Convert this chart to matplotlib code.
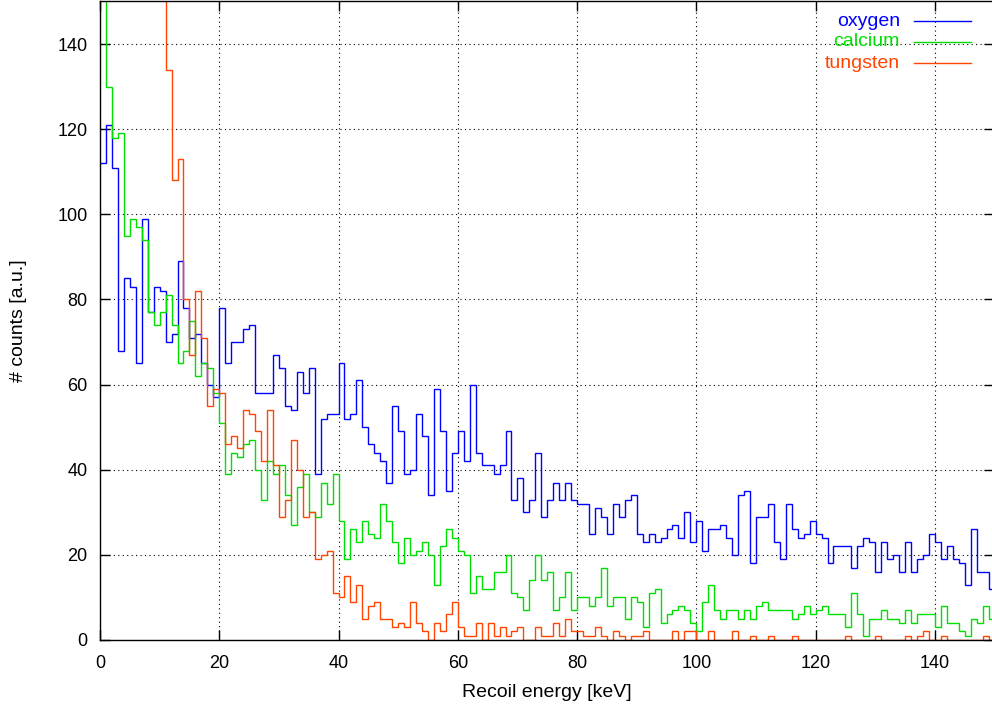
import numpy as np
import matplotlib
matplotlib.use('Agg')
import matplotlib.pyplot as plt
from matplotlib.lines import Line2D

plt.rcParams['font.family'] = ['Liberation Sans', 'DejaVu Sans']

# 1 keV bins from 0 to 150 keV
energy_edges = np.arange(0, 151, 1)

oxygen = [112, 121, 111, 68, 85, 83, 65, 99, 77, 83,
          82, 70, 72, 89, 78, 71, 72, 65, 60, 57,
          78, 65, 70, 70, 73, 74, 58, 58, 58, 67,
          64, 55, 54, 63, 58, 64, 39, 52, 53, 53,
          65, 52, 53, 61, 50, 46, 44, 42, 37, 55,
          49, 39, 40, 53, 48, 34, 59, 49, 35, 44,
          49, 42, 60, 44, 41, 41, 39, 41, 49, 33,
          38, 30, 33, 44, 29, 33, 37, 33, 37, 33,
          32, 32, 25, 31, 29, 25, 32, 29, 33, 34,
          25, 23, 25, 23, 24, 26, 27, 24, 30, 23,
          28, 21, 26, 26, 27, 24, 20, 34, 35, 18,
          29, 29, 32, 23, 19, 32, 26, 24, 25, 28,
          25, 24, 18, 22, 22, 22, 17, 22, 24, 23,
          16, 23, 19, 20, 16, 23, 16, 19, 20, 25,
          23, 19, 22, 19, 18, 13, 26, 16, 16, 12]

calcium = [165, 130, 118, 119, 95, 99, 97, 94, 77, 74,
           77, 81, 74, 65, 68, 75, 62, 65, 64, 58,
           51, 39, 44, 43, 46, 47, 40, 33, 42, 39,
           41, 34, 27, 36, 39, 30, 29, 37, 32, 39,
           28, 19, 26, 23, 28, 25, 24, 32, 28, 23,
           18, 24, 20, 21, 23, 20, 13, 22, 26, 24,
           21, 20, 11, 15, 12, 12, 16, 16, 20, 11,
           10, 7, 14, 20, 14, 16, 7, 10, 16, 7,
           10, 10, 8, 10, 17, 8, 10, 10, 5, 10,
           9, 3, 11, 12, 4, 6, 7, 8, 7, 4,
           2, 9, 13, 7, 5, 7, 7, 5, 7, 5,
           8, 9, 7, 7, 7, 7, 5, 6, 8, 6,
           7, 8, 6, 6, 6, 3, 11, 6, 1, 5,
           5, 7, 5, 5, 4, 7, 4, 6, 6, 6,
           3, 8, 4, 4, 2, 1, 5, 4, 8, 5]

tungsten = [900, 700, 560, 450, 380, 320, 275, 240, 210, 185,
            160, 134, 108, 113, 80, 67, 82, 71, 55, 59,
            58, 46, 48, 45, 54, 53, 49, 42, 54, 41,
            29, 33, 47, 40, 29, 30, 19, 20, 21, 11,
            10, 15, 9, 13, 5, 8, 9, 5, 5, 3,
            4, 3, 9, 4, 2, 0, 4, 2, 6, 9,
            3, 1, 1, 4, 0, 4, 1, 3, 1, 2,
            3, 0, 0, 3, 1, 1, 4, 1, 5, 2,
            2, 1, 1, 3, 1, 0, 2, 1, 0, 1,
            1, 2, 0, 0, 0, 0, 2, 0, 2, 2,
            0, 0, 2, 0, 0, 0, 2, 0, 0, 1,
            0, 0, 1, 0, 0, 0, 1, 0, 0, 0,
            0, 0, 0, 0, 0, 1, 0, 0, 0, 0,
            1, 0, 0, 0, 0, 1, 0, 1, 2, 0,
            0, 1, 0, 0, 0, 0, 0, 0, 1, 0]

series_names = ['oxygen', 'calcium', 'tungsten']
series_colors = ['#0000ff', '#00e000', '#ff4500']
x_ticks = [0, 20, 40, 60, 80, 100, 120, 140]
y_ticks = [0, 20, 40, 60, 80, 100, 120, 140]

W, H = 992, 707
fig = plt.figure(figsize=(W / 100, H / 100), dpi=100)
ax = fig.add_axes([100 / W, 67 / H, (994.5 - 100) / W, (640 - 1.5) / H])

for name, vals, col in zip(series_names, [oxygen, calcium, tungsten], series_colors):
    ax.stairs(vals, energy_edges, color=col, linewidth=1.0, baseline=None)

ax.set_xlim(0, 150)
ax.set_ylim(0, 150)
ax.set_xticks(x_ticks)
ax.set_yticks(y_ticks)
ax.tick_params(direction='in', length=7, width=1, top=True, right=True,
               labelsize=13, colors='black')
ax.tick_params(axis='x', pad=10.5)
ax.tick_params(axis='y', pad=9)
ax.grid(True, color='black', linestyle=(0, (1, 3)), linewidth=0.8)
ax.set_axisbelow(True)
for s in ax.spines.values():
    s.set_linewidth(1.0)

ax.set_xlabel('Recoil energy [keV]', fontsize=14, labelpad=9)
ax.set_ylabel('# counts [a.u.]', fontsize=14, labelpad=22)

# legend (gnuplot-style: right-aligned text, line sample after it)
for k, (name, col) in enumerate(zip(series_names, series_colors)):
    yp = 1 - (21 + 21 * k) / H
    fig.text(900 / W, yp, name, color=col, ha='right', va='center', fontsize=14)
    fig.add_artist(Line2D([914 / W, 971 / W], [yp, yp], color=col, linewidth=1.0,
                          transform=fig.transFigure))

fig.savefig('out.png', dpi=100)
